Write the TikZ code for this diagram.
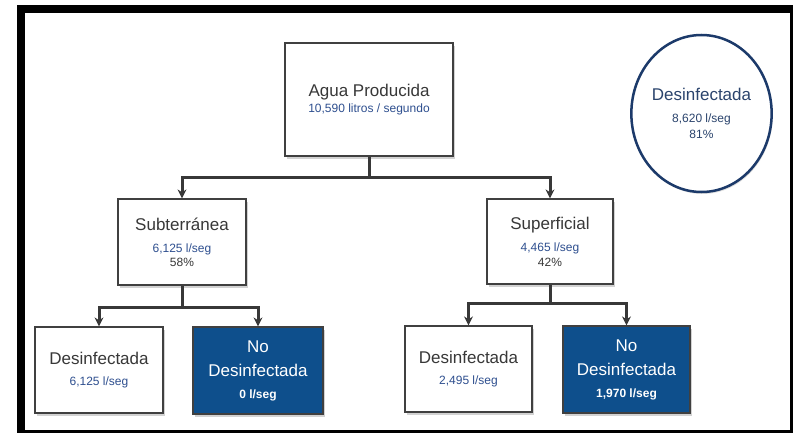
\documentclass[tikz,border=0pt]{standalone}
\usepackage{fontspec}
\setmainfont{Liberation Sans}
\usetikzlibrary{arrows.meta,shadows,shapes.geometric}
\definecolor{boxline}{HTML}{404040}
\definecolor{darkblue}{HTML}{0E4F8C}
\definecolor{flowblue}{HTML}{2E4F8F}
\definecolor{navy}{HTML}{1C3A6A}
\definecolor{txtgray}{HTML}{383838}
\newcommand{\titletxt}{\fontsize{17}{19}\selectfont}
\newcommand{\datatxt}{\fontsize{12}{19}\selectfont}

\begin{document}
\begin{tikzpicture}[x=1pt, y=-1pt,
	box/.style={rectangle, draw=boxline, line width=1.2pt, fill=white, align=center, inner sep=0pt, text=txtgray,
		font=\titletxt, drop shadow={shadow xshift=2pt, shadow yshift=-3pt, opacity=0.35}},
	darkbox/.style={box, fill=darkblue, text=white},
	bar/.style={draw=txtgray, line width=3pt},
	conn/.style={bar, -{Stealth[length=9pt,width=9pt]}}]
	% frame
	\useasboundingbox (0,0) rectangle (793,433);
	\fill[black] (17,5) rectangle (793,433);
	\fill[white] (25,13) rectangle (790,430);
	% boxes
	\node (agua) at (369, 99.5)	[box, minimum width=168pt, minimum height=113pt]
		{Agua Producida\\[-3pt]{\datatxt\color{flowblue}10,590 litros / segundo}};
	\node (sub) at (182, 242)	[box, minimum width=128pt, minimum height=86pt]
		{Subterránea\\[3pt]{\datatxt\color{flowblue}6,125 l/seg}\\[-5pt]{\datatxt 58\%}};
	\node (sup) at (550, 241.5)	[box, minimum width=126pt, minimum height=85pt]
		{Superficial\\[3pt]{\datatxt\color{flowblue}4,465 l/seg}\\[-4pt]{\datatxt 42\%}};
	\node (des1) at (99, 370)	[box, minimum width=128pt, minimum height=86pt]
		{Desinfectada\\[2pt]{\datatxt\color{flowblue}6,125 l/seg}};
	\node (nod1) at (258, 370.5)	[darkbox, minimum width=130pt, minimum height=87pt]
		{No\\[5pt]Desinfectada\\[3pt]{\datatxt\bfseries 0 l/seg}};
	\node (des2) at (468.5, 369)	[box, minimum width=127pt, minimum height=86pt]
		{Desinfectada\\[2pt]{\datatxt\color{flowblue}2,495 l/seg}};
	\node (nod2) at (626.5, 369.5)	[darkbox, minimum width=127pt, minimum height=87pt]
		{No\\[5pt]Desinfectada\\[3pt]{\datatxt\bfseries 1,970 l/seg}};
	\node (dis) at (701.5, 113.5)	[ellipse, draw=navy, line width=2.5pt, fill=white, minimum width=123pt, minimum height=157pt,
		inner sep=0pt, align=center, font=\titletxt, text=navy!85!gray,
		drop shadow={shadow xshift=1pt, shadow yshift=-2pt, opacity=0.25}]
		{Desinfectada\\[3pt]{\datatxt 8,620 l/seg}\\[-3pt]{\datatxt 81\%}};
	% connectors
	\coordinate (jA) at (369, 178);
	\coordinate (jB) at (182, 307);
	\coordinate (jC) at (550, 303);
	\draw[bar] (agua.south) -- (jA);
	\draw[conn] (jA) -| (sub.north);
	\draw[conn] (jA) -| (sup.north);
	\draw[bar] (sub.south) -- (jB);
	\draw[conn] (jB) -| (des1.north);
	\draw[conn] (jB) -| (nod1.north);
	\draw[bar] (sup.south) -- (jC);
	\draw[conn] (jC) -| (des2.north);
	\draw[conn] (jC) -| (nod2.north);
\end{tikzpicture}
\end{document}
